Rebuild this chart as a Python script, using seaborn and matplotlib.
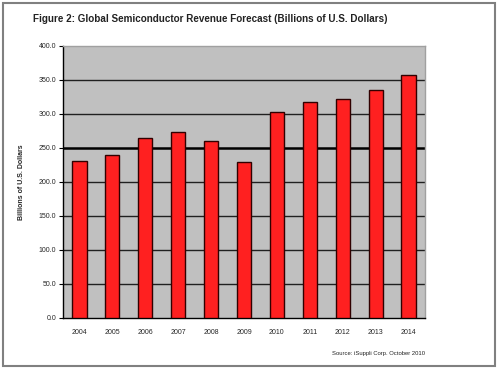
import matplotlib
matplotlib.use("Agg")
import matplotlib.pyplot as plt
import seaborn as sns
import pandas as pd
from matplotlib.patches import Rectangle

years = ["2004", "2005", "2006", "2007", "2008", "2009", "2010", "2011", "2012", "2013", "2014"]
revenue = [231.0, 240.0, 264.0, 274.0, 260.0, 229.0, 303.0, 318.0, 322.0, 335.0, 358.0]
yticks = [0, 50, 100, 150, 200, 250, 300, 350, 400]

sns.set_style("white")
plt.rcParams['font.family'] = ['Liberation Sans Narrow', 'Liberation Sans', 'DejaVu Sans']

df = pd.DataFrame({"year": years, "revenue": revenue})

fig = plt.figure(figsize=(5, 3.75), dpi=100)
ax = fig.add_axes([63/500, 1-318/375, (425-63)/500, (318-46)/375])
ax.set_facecolor("#c0c0c0")

sns.barplot(data=df, x="year", y="revenue", color="#ff2020", width=0.43,
            edgecolor="#300000", linewidth=1.0, saturation=1, ax=ax, zorder=3)

ax.set_ylim(0, 400)
ax.set_xlim(-0.5, len(years) - 0.5)
ax.set_yticks(yticks)
ax.set_yticklabels([f"{v:.1f}" for v in yticks], fontsize=5)
for v in yticks[1:-1]:
    ax.axhline(v, color="black" if v == 250 else "#202020",
               lw=1.8 if v == 250 else 1.0, zorder=1)
ax.set_xticks(range(len(years)))
ax.set_xticklabels(years, fontsize=5)
ax.set_xticks([i + 0.5 for i in range(-1, len(years))], minor=True)
ax.tick_params(axis="x", which="major", length=0, pad=8)
ax.tick_params(axis="x", which="minor", length=3, width=0.8, direction="out", color="black")
ax.tick_params(axis="y", length=3, width=0.8, direction="out", color="black", pad=2, left=True)
ax.set_xlabel("")
ax.set_ylabel("Billions of U.S. Dollars", fontsize=5, fontweight="bold", labelpad=10)
for side in ["left", "bottom"]:
    ax.spines[side].set_color("black")
    ax.spines[side].set_linewidth(1.0)
for side in ["top", "right"]:
    ax.spines[side].set_color("#a0a0a0")
    ax.spines[side].set_linewidth(1.0)

fig.text(33/500, 1-19/375, "Figure 2: Global Semiconductor Revenue Forecast (Billions of U.S. Dollars)",
         fontsize=7.1, fontweight="bold", color="#222222", va="center", ha="left")
fig.text(425/500, 1-353/375, "Source: iSuppli Corp. October 2010", fontsize=4.2,
         color="#222222", va="center", ha="right")

fig.patches.append(Rectangle((3/500, 1-366/375), (495-3)/500, (366-3)/375,
                             transform=fig.transFigure, fill=False,
                             edgecolor="#808080", lw=1.5))

fig.savefig("out.png", dpi=100)
